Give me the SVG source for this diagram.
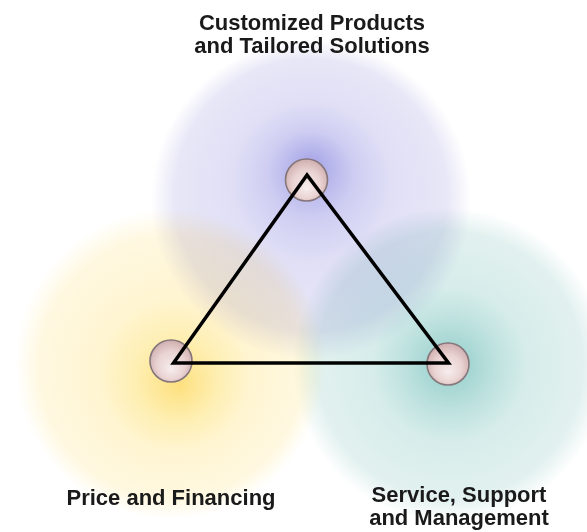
<svg xmlns="http://www.w3.org/2000/svg" width="587" height="532" viewBox="0 0 587 532">
  <style>
    .glow { mix-blend-mode: multiply; }
    .lbl { font-family: "Liberation Sans", Arial, sans-serif; font-weight: bold; font-size: 22px; fill: #1a1a1a; text-anchor: middle; }
    .node { fill: url(#nodeGrad); stroke: #85767a; stroke-width: 1.6; }
    .edge { fill: none; stroke: #000; stroke-width: 3.5; stroke-linejoin: miter; }
  </style>
  <defs>
    <radialGradient id="gPurple" cx="0.5" cy="0.5" r="0.5" fx="0.5" fy="0.39">
      <stop offset="0" stop-color="#a4a2e6"/>
      <stop offset="0.28" stop-color="#cfcef2"/>
      <stop offset="0.5" stop-color="#e0dff6"/>
      <stop offset="0.85" stop-color="#e8e7f7"/>
      <stop offset="1" stop-color="#ffffff"/>
    </radialGradient>
    <radialGradient id="gYellow" cx="0.5" cy="0.5" r="0.5" fx="0.53" fy="0.57">
      <stop offset="0" stop-color="#fde07f"/>
      <stop offset="0.28" stop-color="#feefb4"/>
      <stop offset="0.5" stop-color="#fff5d2"/>
      <stop offset="0.85" stop-color="#fff8e0"/>
      <stop offset="1" stop-color="#ffffff"/>
    </radialGradient>
    <radialGradient id="gTeal" cx="0.5" cy="0.5" r="0.5" fx="0.5" fy="0.5">
      <stop offset="0" stop-color="#92cdc9"/>
      <stop offset="0.3" stop-color="#bfe2df"/>
      <stop offset="0.5" stop-color="#d7edeb"/>
      <stop offset="0.85" stop-color="#e2f1ef"/>
      <stop offset="1" stop-color="#ffffff"/>
    </radialGradient>
    <radialGradient id="nodeGrad" cx="0.5" cy="0.55" r="0.55" fx="0.5" fy="0.7">
      <stop offset="0" stop-color="#f7eded"/>
      <stop offset="0.6" stop-color="#ead3d3"/>
      <stop offset="1" stop-color="#cfaeae"/>
    </radialGradient>
  </defs>
  <rect width="587" height="532" fill="#ffffff"/>

  <g id="halos">
    <circle class="glow" cx="311" cy="200" r="160" fill="url(#gPurple)"/>
    <circle class="glow" cx="170" cy="364" r="155" fill="url(#gYellow)"/>
    <circle class="glow" cx="450" cy="365" r="157" fill="url(#gTeal)"/>
  </g>

  <g id="node-top">
    <circle class="node" cx="306.5" cy="180" r="21"/>
  </g>
  <g id="node-left">
    <circle class="node" cx="171" cy="361" r="21"/>
  </g>
  <g id="node-right">
    <circle class="node" cx="448" cy="364" r="21"/>
  </g>

  <g id="connectors">
    <polygon class="edge" points="307,175 173.5,363 448.5,363"/>
  </g>

  <g id="label-top">
    <text class="lbl" x="312" y="30">Customized Products</text>
    <text class="lbl" x="312" y="53">and Tailored Solutions</text>
  </g>
  <g id="label-left">
    <text class="lbl" x="171" y="505">Price and Financing</text>
  </g>
  <g id="label-right">
    <text class="lbl" x="459" y="502">Service, Support</text>
    <text class="lbl" x="459" y="525">and Management</text>
  </g>
</svg>
